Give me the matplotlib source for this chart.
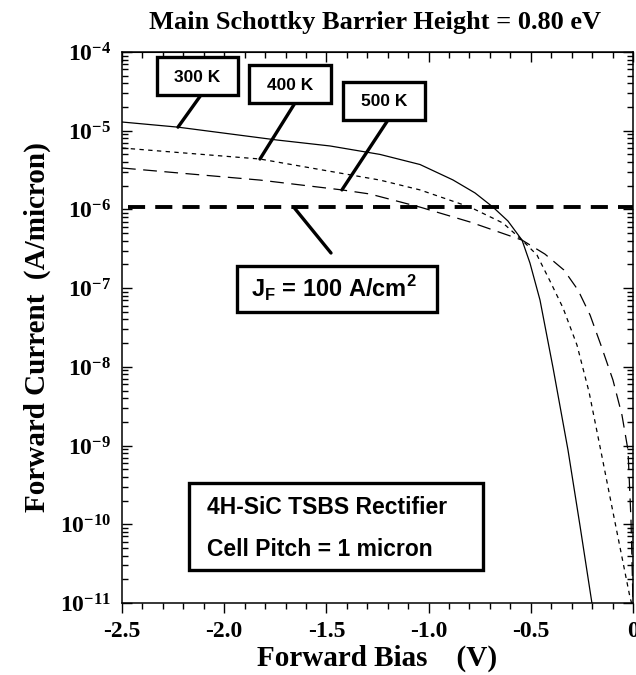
import matplotlib
matplotlib.use('Agg')

import numpy as np
import matplotlib.pyplot as plt
from matplotlib.patches import Rectangle
from matplotlib.ticker import MultipleLocator, LogLocator, FuncFormatter, NullFormatter

# Forward bias (V) and current (A/micron)
bias_300k = [-2.50, -2.226, -1.742, -1.482, -1.238, -1.042, -0.881, -0.773, -0.685,
             -0.612, -0.543, -0.504, -0.455, -0.391, -0.318, -0.259, -0.201]
curr_300k = [1.29e-5, 1.11e-5, 7.62e-6, 6.40e-6, 5.00e-6, 3.72e-6, 2.37e-6, 1.62e-6, 1.07e-6,
             7.13e-7, 4.08e-7, 2.08e-7, 7.06e-8, 9.66e-9, 8.77e-10, 9.48e-11, 1.0e-11]

bias_400k = [-2.50, -1.825, -1.238, -1.042, -0.797, -0.636, -0.543, -0.470,
             -0.406, -0.342, -0.274, -0.215, -0.161, -0.098, -0.015, -0.007]
curr_400k = [6.03e-6, 4.37e-6, 2.36e-6, 1.77e-6, 1.07e-6, 6.71e-7, 4.08e-7, 2.64e-7,
             1.23e-7, 5.58e-8, 1.89e-8, 4.79e-9, 9.57e-10, 1.43e-10, 1.19e-11, 1.0e-11]

bias_500k = [-2.50, -1.825, -1.424, -1.287, -1.042, -0.797, -0.543, -0.431, -0.338,
             -0.269, -0.210, -0.157, -0.098, -0.054, -0.0245, -0.0098, 0.0]
curr_500k = [3.36e-6, 2.36e-6, 1.77e-6, 1.57e-6, 1.07e-6, 6.92e-7, 4.08e-7, 2.71e-7, 1.70e-7,
             9.46e-8, 4.55e-8, 1.89e-8, 6.79e-9, 2.44e-9, 8.77e-10, 1.13e-10, 1.0e-11]

jf_level = 1.07e-6   # 100 A/cm^2 in A/micron

plt.rcParams['mathtext.fontset'] = 'custom'
plt.rcParams['mathtext.rm'] = 'Liberation Serif'
plt.rcParams['mathtext.bf'] = 'Liberation Serif:bold'
plt.rcParams['mathtext.sf'] = 'Liberation Sans:bold'
serif = 'Liberation Serif'
sans = 'Liberation Sans'

W, H = 636, 675
fig = plt.figure(figsize=(W / 100, H / 100), dpi=100)
ax = fig.add_axes([122 / W, 1 - 603 / H, (633 - 122) / W, (603 - 52) / H])

ax.plot(bias_300k, curr_300k, color='black', lw=0.9, ls='-')
ax.plot(bias_400k, curr_400k, color='black', lw=0.9, ls=(0, (3.5, 3.5)))
ax.plot(bias_500k, curr_500k, color='black', lw=0.9, ls=(0, (11, 6)))
ax.axhline(jf_level, xmin=0.012, color='black', lw=2.8, ls=(0, (4.4, 2.6)))

ax.set_yscale('log')
ax.set_ylim(1e-11, 1e-4)
ax.set_xlim(-2.5, 0.0)

ax.xaxis.set_major_locator(MultipleLocator(0.5))
ax.xaxis.set_minor_locator(MultipleLocator(0.1))
ax.xaxis.set_major_formatter(FuncFormatter(lambda v, p: '0' if abs(v) < 1e-9 else '%.1f' % v))
ax.yaxis.set_major_locator(LogLocator(base=10, numticks=20))
ax.yaxis.set_minor_locator(LogLocator(base=10, subs=np.arange(2, 10), numticks=20))
ax.yaxis.set_minor_formatter(NullFormatter())
ax.yaxis.set_major_formatter(FuncFormatter(lambda v, p: r'$\mathbf{10^{%d}}$' % round(np.log10(v))))

ax.tick_params(axis='x', which='both', direction='out', top=False, pad=6)
ax.tick_params(axis='y', which='both', direction='in', right=True, pad=8)
ax.tick_params(which='major', length=7, width=1)
ax.tick_params(which='minor', length=4, width=1)
for lab in ax.get_xticklabels():
    lab.set_fontfamily(serif)
    lab.set_fontweight('bold')
    lab.set_fontsize(17)
ax.tick_params(axis='y', labelsize=17)

top = ax.secondary_xaxis('top')
top.xaxis.set_major_locator(MultipleLocator(0.5))
top.xaxis.set_minor_locator(MultipleLocator(0.1))
top.tick_params(which='both', direction='in', labeltop=False)
top.tick_params(which='major', length=7, width=1)
top.tick_params(which='minor', length=4, width=1)

for s in ax.spines.values():
    s.set_linewidth(1.1)

ax.set_xlabel('Forward Bias    (V)', fontfamily=serif, fontweight='bold', fontsize=21, labelpad=2)
ax.set_ylabel('Forward Current  (A/micron)', fontfamily=serif, fontweight='bold', fontsize=21, labelpad=6)
fig.text(375 / W, 1 - 29 / H, 'Main Schottky Barrier Height = 0.80 eV', fontfamily=serif,
         fontweight='bold', fontsize=19, ha='center', va='baseline')


def box(x0, y0, x1, y1):
    fig.add_artist(Rectangle((x0 / W, 1 - y1 / H), (x1 - x0) / W, (y1 - y0) / H,
                             transform=fig.transFigure, fc='white', ec='black', lw=2.4, zorder=5))


def leader(px, py, v, i):
    ax.annotate('', xy=(v, i), xycoords='data', xytext=(px / W, 1 - py / H),
                textcoords='figure fraction',
                arrowprops=dict(arrowstyle='-', lw=2.4, color='black', shrinkA=0, shrinkB=0))


# temperature labels
box(157, 57, 238, 95)
fig.text(197 / W, 1 - 77 / H, '300 K', fontfamily=sans, fontweight='bold', fontsize=12.5,
         ha='center', va='center', zorder=6)
leader(201, 95, bias_300k[1], curr_300k[1])

box(249, 65, 331, 103)
fig.text(290 / W, 1 - 85 / H, '400 K', fontfamily=sans, fontweight='bold', fontsize=12.5,
         ha='center', va='center', zorder=6)
leader(295, 103, bias_400k[1], curr_400k[1])

box(343, 82, 425, 120)
fig.text(384 / W, 1 - 102 / H, '500 K', fontfamily=sans, fontweight='bold', fontsize=12.5,
         ha='center', va='center', zorder=6)
leader(388, 120, bias_500k[2], curr_500k[2])

# current density label
box(237, 266, 437, 312)
fig.text(334 / W, 1 - 289 / H, r'J$_\mathsf{F}$ = 100 A/cm$^\mathsf{2}$', fontfamily=sans,
         fontweight='bold', fontsize=17, ha='center', va='center', zorder=6)
leader(331, 253, -1.66, jf_level)

# device label
box(189, 483, 483, 570)
fig.text(207 / W, 1 - 508 / H, '4H-SiC TSBS Rectifier', fontfamily=sans, fontweight='bold',
         fontsize=16.5, ha='left', va='center', zorder=6)
fig.text(207 / W, 1 - 549 / H, 'Cell Pitch = 1 micron', fontfamily=sans, fontweight='bold',
         fontsize=16.5, ha='left', va='center', zorder=6)

fig.savefig('out.png', dpi=100)
